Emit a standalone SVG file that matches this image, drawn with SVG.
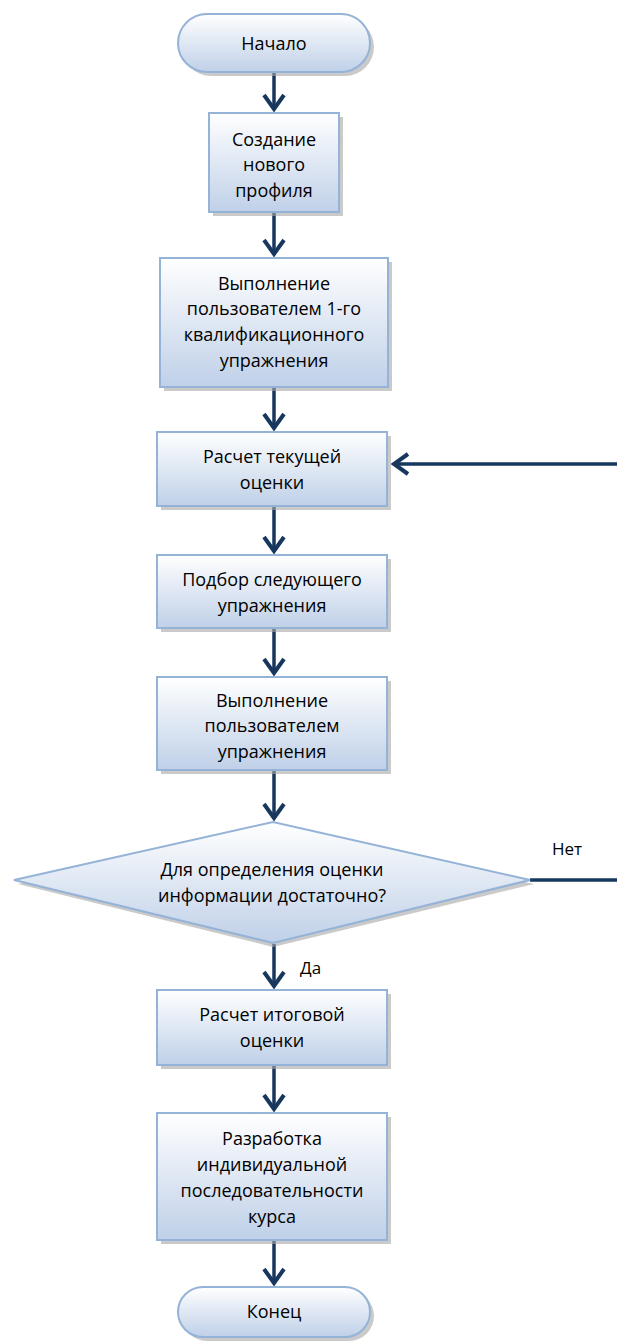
<svg xmlns="http://www.w3.org/2000/svg" width="617" height="1343" viewBox="0 0 617 1343">
<defs>
<linearGradient id="g" x1="0" y1="0" x2="0" y2="1">
<stop offset="0" stop-color="#ffffff"/>
<stop offset="1" stop-color="#bfd0e8"/>
</linearGradient>
<marker id="ah" markerWidth="24" markerHeight="24" viewBox="0 0 24 24" refX="16" refY="12" orient="auto" markerUnits="userSpaceOnUse">
<path d="M2,2 L16,12 L2,22" fill="none" stroke="#17375e" stroke-width="4"/>
</marker>
</defs>
<style>
.sh{fill:#a6a6a6;opacity:0.6}
.nd{fill:url(#g);stroke:#95b3d7;stroke-width:2}
.t{font-family:"Open Sans","Liberation Sans",sans-serif;font-size:18px;fill:#000;text-anchor:middle}
.l{font-family:"Open Sans","Liberation Sans",sans-serif;font-size:17px;fill:#000}
.c{fill:none;stroke:#17375e;stroke-width:3.5}
</style>
<rect width="617" height="1343" fill="#fff"/>
<g id="connectors">
<line class="c" x1="274" y1="72" x2="274" y2="109" marker-end="url(#ah)"/>
<line class="c" x1="274" y1="213" x2="274" y2="254" marker-end="url(#ah)"/>
<line class="c" x1="274" y1="388" x2="274" y2="428" marker-end="url(#ah)"/>
<line class="c" x1="617" y1="464" x2="394" y2="464" marker-end="url(#ah)"/>
<line class="c" x1="274" y1="507" x2="274" y2="551" marker-end="url(#ah)"/>
<line class="c" x1="274" y1="629" x2="274" y2="673" marker-end="url(#ah)"/>
<line class="c" x1="274" y1="771" x2="274" y2="818" marker-end="url(#ah)"/>
<line class="c" x1="530" y1="880" x2="617" y2="880"/>
<line class="c" x1="274" y1="944" x2="274" y2="986" marker-end="url(#ah)"/>
<line class="c" x1="274" y1="1066" x2="274" y2="1109" marker-end="url(#ah)"/>
<line class="c" x1="274" y1="1241" x2="274" y2="1283" marker-end="url(#ah)"/>
<text class="l" x="552" y="855">Нет</text>
<text class="l" x="300" y="974">Да</text>
</g>
<g id="n1">
<rect class="sh" x="182" y="18" width="192" height="58" rx="29"/>
<rect class="nd" x="178" y="14" width="192" height="58" rx="29"/>
<text class="t" x="274" y="50">Начало</text>
</g>
<g id="n2">
<rect class="sh" x="213" y="117" width="130" height="99"/>
<rect class="nd" x="209" y="113" width="130" height="99"/>
<text class="t" x="274" y="146">Создание</text>
<text class="t" x="274" y="171">нового</text>
<text class="t" x="274" y="197">профиля</text>
</g>
<g id="n3">
<rect class="sh" x="164" y="262" width="228" height="129"/>
<rect class="nd" x="160" y="258" width="228" height="129"/>
<text class="t" x="274" y="290">Выполнение</text>
<text class="t" x="274" y="315">пользователем 1-го</text>
<text class="t" x="274" y="341">квалификационного</text>
<text class="t" x="274" y="367">упражнения</text>
</g>
<g id="n4">
<rect class="sh" x="161" y="436" width="230" height="74"/>
<rect class="nd" x="157" y="432" width="230" height="74"/>
<text class="t" x="272" y="463">Расчет текущей</text>
<text class="t" x="272" y="489">оценки</text>
</g>
<g id="n5">
<rect class="sh" x="161" y="559" width="230" height="73"/>
<rect class="nd" x="157" y="555" width="230" height="73"/>
<text class="t" x="272" y="586">Подбор следующего</text>
<text class="t" x="272" y="612">упражнения</text>
</g>
<g id="n6">
<rect class="sh" x="161" y="681" width="230" height="93"/>
<rect class="nd" x="157" y="677" width="230" height="93"/>
<text class="t" x="272" y="707">Выполнение</text>
<text class="t" x="272" y="732">пользователем</text>
<text class="t" x="272" y="758">упражнения</text>
</g>
<g id="n7">
<polygon class="sh" points="273,826 18,884 273,947 534,884"/>
<polygon class="nd" points="273,822 14,880 273,943 530,880"/>
<text class="t" x="272" y="876">Для определения оценки</text>
<text class="t" x="272" y="902">информации достаточно?</text>
</g>
<g id="n8">
<rect class="sh" x="161" y="994" width="230" height="75"/>
<rect class="nd" x="157" y="990" width="230" height="75"/>
<text class="t" x="272" y="1021">Расчет итоговой</text>
<text class="t" x="272" y="1047">оценки</text>
</g>
<g id="n9">
<rect class="sh" x="161" y="1117" width="230" height="127"/>
<rect class="nd" x="157" y="1113" width="230" height="127"/>
<text class="t" x="272" y="1145">Разработка</text>
<text class="t" x="272" y="1171">индивидуальной</text>
<text class="t" x="272" y="1197">последовательности</text>
<text class="t" x="272" y="1223">курса</text>
</g>
<g id="n10">
<rect class="sh" x="182" y="1291" width="192" height="50" rx="25"/>
<rect class="nd" x="178" y="1287" width="192" height="50" rx="25"/>
<text class="t" x="274" y="1318">Конец</text>
</g>
</svg>
